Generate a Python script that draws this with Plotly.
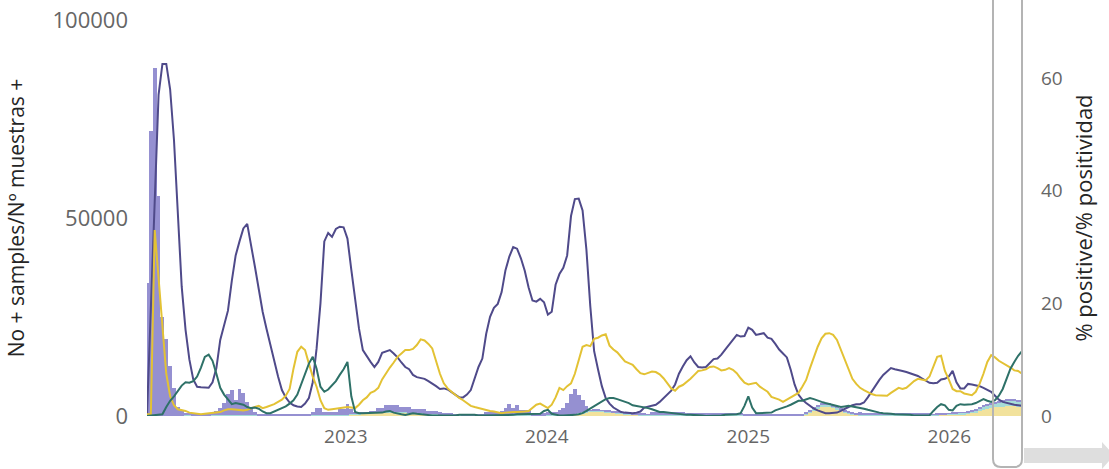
import pandas as pd
import plotly.graph_objects as go

# weekly reporting dates
weeks = pd.date_range("2022-01-05", periods=228, freq="7D")

# % positive (right axis)
pct_purple = [
    0.2, 19, 38, 57, 62.5, 62.5, 58, 49, 36, 23,
    15.3, 10, 6.5, 5.2, 5.1, 5.0, 5.0, 6.0, 8.5, 13.5,
    16, 18.7, 24, 28.5, 31, 33.3, 34.1, 30.5, 26.5, 22.5,
    18.5, 15.5, 12.5, 10, 7, 4.6, 3.3, 2.4, 1.9, 1.7,
    1.6, 2.2, 3.2, 6.0, 12, 20, 31, 32.5, 31.8, 33.2,
    33.6, 33.5, 31.5, 26, 21, 15.5, 11.7, 10.6, 9.6, 8.7,
    9.6, 11.2, 11.5, 11.7, 11.1, 10.4, 9.5, 8.7, 8.3, 7.3,
    6.9, 6.8, 6.6, 6.2, 5.8, 5.3, 4.8, 4.9, 4.7, 4.2,
    3.7, 3.3, 3.3, 3.8, 4.6, 6.8, 8.7, 10.2, 14.6, 17.6,
    19.2, 19.9, 22, 25.9, 28.3, 30, 29.7, 28, 25.8, 22.8,
    20.5, 20.3, 20.8, 20.2, 18, 18.5, 23.3, 25.2, 26.3, 28.5,
    35.5, 38.5, 38.6, 36.5, 29.5, 19.5, 11.5, 8.3, 5.3, 3.2,
    2.2, 1.5, 1.1, 0.7, 0.6, 0.5, 0.5, 0.6, 0.8, 1.5,
    1.7, 1.8, 2.0, 2.5, 3.2, 3.8, 4.5, 5.6, 7.5, 8.8,
    9.9, 10.6, 9.5, 8.7, 8.6, 8.7, 9.5, 10.1, 10.2, 10.9,
    11.8, 12.6, 13.5, 14.4, 14.1, 14.2, 15.7, 15.3, 14.4, 14.6,
    14.7, 13.9, 13.7, 12.8, 11.8, 11.1, 10.4, 8.2, 5.6, 3.8,
    2.9, 2.3, 1.8, 1.3, 1.0, 0.7, 0.5, 0.5, 0.5, 0.6,
    0.9, 1.3, 1.6, 1.9, 2.1, 2.1, 2.4, 3.3, 4.4, 5.5,
    6.4, 7.3, 7.9, 8.5, 8.3, 8.2, 8.0, 7.8, 7.6, 7.4,
    7.1, 6.7, 6.3, 5.9, 5.8, 5.9, 6.5, 6.6, 7.0, 8.0,
    6.0, 4.9, 4.9, 5.7, 5.6, 5.5, 5.3, 5.0, 4.7, 4.3,
    3.6, 2.9, 2.5, 2.3, 2.1, 2.0, 1.9, 1.8,
]
pct_yellow = [
    0.3, 0.3, 33, 25, 16.5, 7.5, 3.5, 1.9, 1.2, 1.1,
    0.9, 0.6, 0.5, 0.4, 0.3, 0.4, 0.5, 0.5, 0.6, 0.7,
    1.0, 1.2, 1.2, 1.1, 1.1, 1.0, 1.1, 1.4, 1.6, 1.8,
    1.4, 1.6, 1.8, 2.1, 2.5, 2.9, 3.6, 4.8, 8.4, 11.4,
    12.3, 11.7, 9.3, 7.0, 5.2, 2.8, 1.4, 1.1, 1.2, 1.3,
    1.4, 1.5, 1.6, 1.5, 1.4, 2.0, 2.8, 3.3, 4.1, 4.4,
    5.0, 6.5, 7.6, 8.6, 9.5, 10.5, 11.1, 11.7, 11.7, 11.9,
    12.6, 13.6, 13.4, 12.8, 12.0, 9.8, 7.5, 5.8, 4.9, 4.3,
    3.7, 3.2, 2.8, 2.3, 1.8, 1.6, 1.4, 1.2, 1.1, 0.9,
    0.8, 0.7, 0.5, 0.6, 0.7, 0.7, 0.7, 0.7, 0.8, 0.9,
    1.4, 2.0, 2.2, 1.8, 1.4, 2.0, 3.3, 5.0, 4.6, 5.3,
    5.8, 7.5, 9.8, 12.3, 12.6, 12.4, 13.7, 13.9, 14.3, 14.5,
    12.5, 11.8, 11.3, 10.5, 9.7, 9.4, 9.1, 8.3, 7.6, 7.4,
    7.6, 7.9, 7.8, 7.4, 6.7, 5.8, 4.9, 4.5, 5.2, 5.5,
    6.0, 6.6, 7.3, 8.0, 8.1, 8.3, 8.7, 8.8, 8.5, 8.1,
    8.2, 8.5, 8.2, 7.6, 6.7, 5.9, 5.6, 5.8, 5.9, 5.2,
    4.8, 4.3, 3.4, 3.2, 2.9, 2.5, 2.9, 3.3, 3.7, 4.1,
    5.2, 6.4, 8.5, 10.6, 12.3, 13.8, 14.6, 14.7, 14.4, 13.5,
    11.7, 9.9, 8.2, 6.6, 5.7, 5.0, 4.6, 4.2, 3.9, 3.7,
    3.7, 3.6, 3.6, 4.1, 4.6, 5.0, 4.8, 5.0, 5.6, 6.2,
    6.6, 6.5, 6.3, 7.0, 8.6, 10.5, 10.7, 8.0, 6.5, 4.8,
    4.4, 4.4, 4.0, 3.9, 3.7, 4.3, 5.7, 7.5, 9.6, 10.8,
    10.4, 9.8, 9.4, 9.1, 8.6, 8.1, 8.0, 7.5,
]
pct_teal = [
    0, 0.1, 0.1, 0.2, 0.3, 1.6, 2.7, 3.5, 4.5, 5.4,
    6.0, 5.9, 6.2, 7.0, 8.6, 10.5, 10.9, 9.8, 7.5, 5.0,
    3.8, 3.0, 2.1, 2.3, 2.2, 2.0, 1.6, 1.4, 1.5, 1.3,
    0.8, 0.5, 0.5, 0.8, 1.1, 1.3, 1.7, 2.2, 2.8, 3.8,
    5.6, 7.5, 9.3, 10.5, 8.4, 5.2, 4.3, 4.7, 5.5, 6.2,
    7.3, 8.3, 9.6, 3.5, 0.7, 0.5, 0.5, 0.5, 0.5, 0.5,
    0.5, 0.6, 0.8, 0.9, 0.6, 0.4, 0.3, 0.2, 0.3, 0.5,
    0.4, 0.3, 0.3, 0.2, 0.1, 0.1, 0.1, 0.0, 0.0, 0.0,
    0.1, 0.2, 0.2, 0.3, 0.3, 0.2, 0.1, 0.1, 0.2, 0.2,
    0.2, 0.2, 0.2, 0.2, 0.2, 0.2, 0.3, 0.3, 0.3, 0.3,
    0.3, 0.3, 0.4, 0.9, 1.1, 0.4, 0.2, 0.1, 0.1, 0.1,
    0.2, 0.2, 0.3, 0.5, 0.9, 1.3, 1.8, 2.1, 2.5, 3.0,
    3.2, 3.2, 3.0, 2.8, 2.6, 2.3, 1.9, 1.8, 1.7, 1.6,
    1.4, 1.2, 0.9, 0.7, 0.7, 0.6, 0.5, 0.4, 0.3, 0.3,
    0.2, 0.2, 0.2, 0.1, 0.1, 0.0, 0.0, 0.1, 0.1, 0.1,
    0.2, 0.2, 0.2, 0.3, 0.5, 1.8, 3.5, 1.5, 0.5, 0.5,
    0.5, 0.5, 0.6, 1.0, 1.2, 1.4, 1.7, 2.0, 2.3, 2.7,
    2.7, 2.9, 3.2, 3.0, 2.7, 2.5, 2.3, 2.1, 1.9, 1.8,
    1.6, 1.7, 1.8, 1.7, 1.6, 1.5, 1.3, 1.1, 0.9, 0.7,
    0.6, 0.5, 0.5, 0.4, 0.3, 0.3, 0.2, 0.2, 0.2, 0.1,
    0.1, 0.1, 0.1, 0.1, 0.9, 1.6, 2.1, 1.9, 1.1, 1.0,
    1.8, 2.1, 2.0, 2.0, 2.1, 2.3, 2.6, 3.0, 2.7, 2.5,
    2.8, 3.6, 4.8, 6.7, 8.4, 9.6, 10.7, 11.5,
]

# number of positive samples (left axis), stacked
pos_yellow = (
    [0] * 41 + [100] * 12 +
    [300, 400, 500, 600, 700, 800, 800,
     900, 900, 900, 900, 900, 900, 800, 800, 700, 700,
     600, 600, 500, 500, 400, 400, 300, 300, 300, 200,
     200, 200] + [100] * 28 +
    [300, 400, 500, 700, 900, 1100, 1200, 1200, 1100,
     1000, 900, 800, 700, 600, 500, 400, 300, 300, 200,
     200] + [100] * 41 +
    [500, 900, 1400, 1900, 2300, 2500, 2400, 2100, 1700,
     1300, 900, 600, 400, 300] + [200] * 21 +
    [300, 300, 300, 400, 400, 500, 500, 600, 800, 1000, 1300, 1600, 1800, 2000,
     2200, 2300, 2400, 2500, 2500, 2500, 2400, 2400]
)
pos_blue = (
    [0] * 10 + [150] * 50 + [100] * 50 + [200] * 30 + [100] * 31 +
    [200, 300, 400, 500, 500, 500, 500, 400, 400,
     300, 300, 200, 200, 200, 200] + [100] * 19 +
    [200, 200, 200, 300, 300,
     300, 300, 300, 300, 400, 500, 600, 700, 800, 900,
     1000, 1100, 1200, 1300, 1300, 1300, 1200, 1200]
)
pos_purple = (
    [33500, 72000, 88000, 55500, 25000, 19400, 12600, 7000, 2300, 1500,
     700, 600, 500, 450, 400, 400, 500, 750, 1150, 1850,
     3150, 5350, 6350, 4000, 6650, 5650, 3350, 1850, 850, 450,
     350, 300, 250, 200, 200, 200, 200, 200, 200, 200,
     200, 250, 350, 750, 1750, 1750, 850, 850, 850, 850,
     1450, 1450, 2750, 1250, 250, 150, 100, 100, 100, 100,
     1000, 1000, 1800, 1800, 1800, 1800, 1400, 1400, 1500, 1000,
     1100, 1100, 1200, 600, 700, 700, 500, 400, 400, 300,
     100, 100, 100, 100, 100, 100, 100, 100, 900, 900,
     900, 900, 1100, 1800, 2800, 1800, 2600, 1300, 1300, 1300,
     500, 500, 500, 500, 900, 900, 900, 1300, 1800, 3100,
     5000, 6300, 4700, 3200, 1400] + [200] * 16 + [600] * 24 +
    [400] * 16 + [300] * 14 + [500] * 19 + [150] * 9 +
    [200, 200, 300, 300, 300, 400, 400, 400, 400,
     500, 500, 500, 500, 500, 500]
)

fig = go.Figure()
fig.add_trace(go.Bar(x=weeks, y=pos_yellow, marker_color="#f2e29c",
                     marker_line_width=0, name="pos yellow"))
fig.add_trace(go.Bar(x=weeks, y=pos_blue, marker_color="#a6dcd8",
                     marker_line_width=0, name="pos blue"))
fig.add_trace(go.Bar(x=weeks, y=pos_purple, marker_color="#9590d1",
                     marker_line_width=0, name="pos purple"))

fig.add_trace(go.Scatter(x=weeks, y=pct_purple, yaxis="y2", mode="lines",
                         line=dict(color="#4f4a8a", width=2), name="% purple"))
fig.add_trace(go.Scatter(x=weeks, y=pct_yellow, yaxis="y2", mode="lines",
                         line=dict(color="#e3c234", width=2), name="% yellow"))
fig.add_trace(go.Scatter(x=weeks, y=pct_teal, yaxis="y2", mode="lines",
                         line=dict(color="#2e7168", width=2), name="% teal"))

tick_font = dict(family="Open Sans", color="#666666")

fig.update_layout(
    width=1109, height=469,
    margin=dict(l=147, r=87, t=20, b=53, autoexpand=False),
    paper_bgcolor="white", plot_bgcolor="white",
    barmode="stack", bargap=0,
    showlegend=False,
    font=dict(family="Open Sans"),
    xaxis=dict(
        range=["2022-01-05", "2026-05-13"], automargin=False,
        tick0="2023-01-01", dtick="M12", tickformat="%Y",
        showgrid=False, zeroline=False, showline=False,
        tickfont=dict(size=19, **tick_font), ticklabelstandoff=7,
    ),
    yaxis=dict(
        range=[0, 100000], tickvals=[0, 50000, 100000], tickformat="d",
        automargin=False,
        showgrid=False, zeroline=False, showline=False,
        tickfont=dict(size=22, **tick_font), ticklabelstandoff=18,
        title=dict(text="No + samples/Nº muestras +", standoff=22,
                   font=dict(family="Open Sans", color="#252525", size=21)),
    ),
    yaxis2=dict(
        overlaying="y", side="right", automargin=False,
        range=[0, 70.3], tickvals=[0, 20, 40, 60],
        showgrid=False, zeroline=False, showline=False,
        tickfont=dict(size=19, **tick_font), ticklabelstandoff=18,
        title=dict(text="% positive/% positividad", standoff=14,
                   font=dict(family="Open Sans", color="#252525", size=22)),
    ),
)

# scroll frame and arrow on the right edge
fig.add_shape(type="path", xref="paper", yref="paper",
              path="M 0.96686,1.1 L 0.96686,-0.1086 Q 0.96686,-0.1288 0.976,-0.1288 "
                   "L 0.99086,-0.1288 Q 1.0,-0.1288 1.0,-0.1086 L 1.0,1.1",
              line=dict(color="#b4b4b4", width=2))
fig.add_shape(type="path", xref="paper", yref="paper",
              path="M 1.00229,-0.0808 L 1.09143,-0.0808 L 1.09143,-0.0657 "
                   "L 1.10514,-0.0997 L 1.09143,-0.1338 L 1.09143,-0.1187 "
                   "L 1.00229,-0.1187 Z",
              fillcolor="#dedede", line=dict(width=0))

# page body has a default 8px margin; drop it so the figure sits at the corner
fig.write_html("out.html", config={"displayModeBar": False},
               post_script="document.body.style.margin='0px';")
